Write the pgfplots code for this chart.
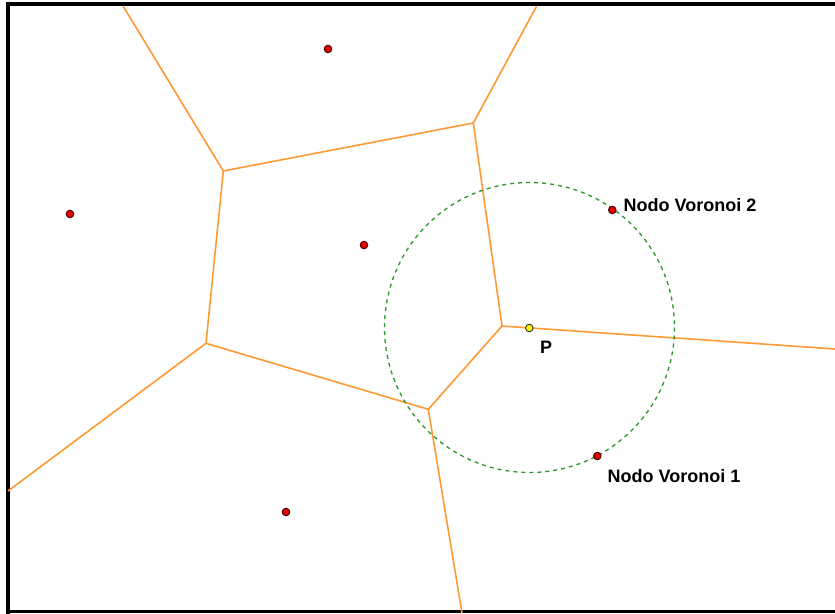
\documentclass[border=0pt]{standalone}
\usepackage{pgfplots}
\pgfplotsset{compat=1.18}
\usepackage{fontspec}
\setmainfont{Liberation Sans}

\definecolor{edgeorange}{RGB}{255,153,51}
\definecolor{circgreen}{RGB}{40,150,40}
\definecolor{siteRed}{RGB}{230,0,0}

\begin{document}
\begin{tikzpicture}
\begin{axis}[
    name=main,
    width=835pt, height=613pt, scale only axis,
    xmin=0, xmax=835, ymin=0, ymax=613,
    y dir=reverse,
    hide axis, clip=false,
    edge/.style={edgeorange, line width=1.6pt, no markers},
]
% white background, a little larger than the page
\addplot[fill=white, draw=none, no markers]
    coordinates {(-6,-6) (841,-6) (841,619) (-6,619)} -- cycle;

% frame (left, top, bottom)
\addplot[black, line width=4pt, no markers] coordinates {(8,616) (8,4) (840,4)};
\addplot[black, line width=3pt, no markers] coordinates {(6,611.5) (840,611.5)};

% voronoi edges
\addplot[edge] coordinates {(123,6) (223.3,171)};
\addplot[edge] coordinates {(223.3,171) (473.3,123)};
\addplot[edge] coordinates {(536.7,6) (473.3,123)};
\addplot[edge] coordinates {(473.3,123) (502,326)};
\addplot[edge] coordinates {(502,326) (835,349)};
\addplot[edge] coordinates {(502,326) (428.3,409.3)};
\addplot[edge] coordinates {(428.3,409.3) (206,343.3)};
\addplot[edge] coordinates {(428.3,409.3) (462,613)};
\addplot[edge] coordinates {(206,343.3) (223.3,171)};
\addplot[edge] coordinates {(206,343.3) (8,491)};

% circle through the two voronoi nodes
\draw[circgreen, line width=1.3pt, dash pattern=on 4pt off 4pt]
    (axis cs:529.5,327.5) circle[radius=145];

% sites
\addplot[only marks, mark=*, mark size=3.8pt,
    mark options={fill=siteRed, draw=black!75!red, line width=0.9pt}]
    coordinates {(328,49) (70,214) (364,245) (612.3,210) (597.3,456) (286,512)};

% point P
\addplot[only marks, mark=*, mark size=3.8pt,
    mark options={fill=yellow, draw=black!80, line width=0.9pt}]
    coordinates {(529.3,328)};

\node[anchor=west, font=\bfseries\fontsize{18}{18}\selectfont, inner sep=0pt]
    at (axis cs:623.5,205) {Nodo Voronoi 2};
\node[anchor=west, font=\bfseries\fontsize{18}{18}\selectfont, inner sep=0pt]
    at (axis cs:607.5,476) {Nodo Voronoi 1};
\node[anchor=west, font=\bfseries\fontsize{18}{18}\selectfont, inner sep=0pt]
    at (axis cs:540,347) {P};
\end{axis}
\pgfresetboundingbox
\path[use as bounding box] (main.south west) rectangle (main.north east);
\end{tikzpicture}
\end{document}
